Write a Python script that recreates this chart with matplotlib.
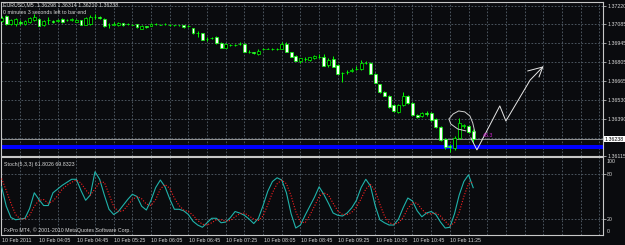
import matplotlib.pyplot as plt
import matplotlib.transforms as mtrans

plt.rcParams['font.family'] = ['Liberation Sans', 'DejaVu Sans']

# EURUSD M5 candles, 10 Feb 2011 from 03:25
opens = [1.37109, 1.37146, 1.37087, 1.37087, 1.37098, 1.37087, 1.37102, 1.37117, 1.37124, 1.37080,
         1.37113, 1.37106, 1.37106, 1.37124, 1.37115, 1.37119, 1.37102, 1.37113, 1.37080, 1.37087,
         1.37139, 1.37139, 1.37124, 1.37076, 1.37083, 1.37078, 1.37092, 1.37086, 1.37083, 1.37085,
         1.37052, 1.37069, 1.37072, 1.37086, 1.37083, 1.37084, 1.37080, 1.37079, 1.37078, 1.37076,
         1.37071, 1.37055, 1.37021, 1.37019, 1.36973, 1.36980, 1.36991, 1.36947, 1.36910, 1.36929,
         1.36932, 1.36936, 1.36936, 1.36884, 1.36877, 1.36866, 1.36899, 1.36903, 1.36904, 1.36901,
         1.36903, 1.36940, 1.36881, 1.36851, 1.36814, 1.36829, 1.36822, 1.36837, 1.36844, 1.36844,
         1.36785, 1.36829, 1.36785, 1.36726, 1.36730, 1.36744, 1.36753, 1.36755, 1.36797, 1.36796,
         1.36722, 1.36641, 1.36586, 1.36556, 1.36490, 1.36439, 1.36490, 1.36556, 1.36505, 1.36416,
         1.36409, 1.36431, 1.36431, 1.36387, 1.36328, 1.36240, 1.36188, 1.36173, 1.36247, 1.36335,
         1.36335, 1.36298]
highs = [1.37146, 1.37153, 1.37124, 1.37131, 1.37117, 1.37117, 1.37139, 1.37161, 1.37131, 1.37117,
         1.37139, 1.37117, 1.37124, 1.37131, 1.37124, 1.37131, 1.37124, 1.37117, 1.37139, 1.37153,
         1.37161, 1.37146, 1.37131, 1.37094, 1.37102, 1.37102, 1.37094, 1.37094, 1.37087, 1.37087,
         1.37076, 1.37072, 1.37094, 1.37094, 1.37087, 1.37091, 1.37087, 1.37083, 1.37083, 1.37080,
         1.37080, 1.37061, 1.37036, 1.37021, 1.36991, 1.36991, 1.36999, 1.36955, 1.36947, 1.36940,
         1.36940, 1.36955, 1.36947, 1.36896, 1.36881, 1.36903, 1.36907, 1.36910, 1.36907, 1.36910,
         1.36955, 1.36955, 1.36884, 1.36855, 1.36837, 1.36844, 1.36844, 1.36859, 1.36866, 1.36866,
         1.36837, 1.36851, 1.36792, 1.36733, 1.36748, 1.36763, 1.36778, 1.36822, 1.36814, 1.36807,
         1.36726, 1.36645, 1.36593, 1.36564, 1.36498, 1.36498, 1.36586, 1.36564, 1.36512, 1.36424,
         1.36439, 1.36446, 1.36439, 1.36394, 1.36335, 1.36247, 1.36203, 1.36262, 1.36394, 1.36350,
         1.36343, 1.36314]
lows = [1.37102, 1.37080, 1.37080, 1.37072, 1.37080, 1.37080, 1.37094, 1.37109, 1.37069, 1.37072,
        1.37087, 1.37094, 1.37102, 1.37094, 1.37109, 1.37109, 1.37098, 1.37076, 1.37076, 1.37080,
        1.37124, 1.37124, 1.37065, 1.37055, 1.37080, 1.37072, 1.37072, 1.37080, 1.37076, 1.37061,
        1.37050, 1.37061, 1.37069, 1.37080, 1.37076, 1.37080, 1.37072, 1.37072, 1.37072, 1.37061,
        1.37065, 1.37013, 1.36991, 1.36966, 1.36962, 1.36977, 1.36943, 1.36907, 1.36907, 1.36925,
        1.36925, 1.36932, 1.36877, 1.36873, 1.36866, 1.36862, 1.36896, 1.36899, 1.36896, 1.36896,
        1.36899, 1.36877, 1.36840, 1.36811, 1.36800, 1.36811, 1.36814, 1.36829, 1.36837, 1.36774,
        1.36770, 1.36767, 1.36715, 1.36660, 1.36719, 1.36733, 1.36748, 1.36748, 1.36792, 1.36715,
        1.36649, 1.36582, 1.36553, 1.36468, 1.36439, 1.36431, 1.36483, 1.36498, 1.36409, 1.36394,
        1.36402, 1.36409, 1.36372, 1.36321, 1.36225, 1.36166, 1.36144, 1.36159, 1.36240, 1.36321,
        1.36284, 1.36210]
closes = [1.37131, 1.37087, 1.37117, 1.37124, 1.37094, 1.37109, 1.37131, 1.37142, 1.37072, 1.37109,
          1.37117, 1.37104, 1.37113, 1.37098, 1.37117, 1.37122, 1.37117, 1.37080, 1.37128, 1.37139,
          1.37142, 1.37128, 1.37069, 1.37080, 1.37087, 1.37092, 1.37078, 1.37087, 1.37081, 1.37063,
          1.37072, 1.37066, 1.37087, 1.37087, 1.37081, 1.37085, 1.37078, 1.37080, 1.37077, 1.37065,
          1.37072, 1.37019, 1.37017, 1.36969, 1.36977, 1.36984, 1.36947, 1.36910, 1.36943, 1.36932,
          1.36930, 1.36940, 1.36881, 1.36881, 1.36873, 1.36888, 1.36903, 1.36905, 1.36903, 1.36904,
          1.36943, 1.36881, 1.36844, 1.36814, 1.36833, 1.36831, 1.36840, 1.36848, 1.36845, 1.36778,
          1.36818, 1.36770, 1.36719, 1.36724, 1.36733, 1.36748, 1.36755, 1.36796, 1.36800, 1.36719,
          1.36652, 1.36586, 1.36556, 1.36475, 1.36446, 1.36490, 1.36556, 1.36505, 1.36416, 1.36405,
          1.36431, 1.36424, 1.36380, 1.36328, 1.36232, 1.36181, 1.36177, 1.36247, 1.36358, 1.36339,
          1.36291, 1.36238]

# Stochastic(5,3,3)
stoch_main = [63, 37, 22, 19, 20, 21, 34, 55, 46, 38,
              38, 55, 60, 65, 69, 73, 73, 58, 45, 52,
              83, 73, 52, 33, 26, 30, 38, 46, 53, 50,
              37, 32, 45, 62, 72, 63, 47, 33, 33, 31,
              26, 17, 12, 9, 15, 21, 21, 15, 16, 22,
              30, 28, 25, 20, 14, 21, 38, 57, 70, 75,
              72, 55, 27, 8, 12, 25, 37, 49, 63, 53,
              41, 28, 25, 24, 28, 35, 45, 62, 73, 64,
              38, 19, 15, 12, 12, 20, 35, 48, 44, 31,
              23, 28, 30, 26, 16, 8, 9, 27, 52, 70,
              79, 61.80]
stoch_signal = [74, 58, 41, 26, 20, 20, 25, 37, 45, 46,
                41, 44, 51, 60, 65, 69, 72, 68, 59, 52,
                60, 69, 69, 53, 37, 30, 31, 38, 46, 50,
                47, 40, 38, 46, 60, 66, 61, 48, 38, 32,
                30, 25, 18, 13, 12, 15, 19, 19, 17, 18,
                23, 27, 28, 24, 20, 18, 24, 39, 55, 67,
                72, 67, 51, 30, 16, 15, 25, 37, 50, 55,
                52, 41, 31, 26, 26, 29, 36, 47, 60, 66,
                58, 40, 24, 15, 13, 15, 22, 34, 42, 41,
                33, 27, 27, 28, 24, 17, 11, 15, 29, 50,
                67, 69.83]

time_labels = ['10 Feb 2011', '10 Feb 04:05', '10 Feb 04:45', '10 Feb 05:25', '10 Feb 06:05',
               '10 Feb 06:45', '10 Feb 07:25', '10 Feb 08:05', '10 Feb 08:45', '10 Feb 09:25',
               '10 Feb 10:05', '10 Feb 10:45', '10 Feb 11:25']
time_bars = [0, 8, 16, 24, 32, 40, 48, 56, 64, 72, 80, 88, 96]

price_ticks = [1.37220, 1.37085, 1.36945, 1.36805, 1.36665, 1.36530, 1.36390, 1.36250, 1.36115]
price_labels = ['1.37220', '1.37085', '1.36945', '1.36805', '1.36665', '1.36530', '1.36390', '', '1.36115']
last_price = 1.36238
zone_low, zone_high = 1.36162, 1.36196

# hand drawn objects
path_bars = [100.5, 101.8, 106.7, 108.0, 113.2, 115.9]
path_prices = [1.36247, 1.36159, 1.36483, 1.36372, 1.36674, 1.36770]
head_bars = [112.7, 115.9, 115.1]
head_prices = [1.36741, 1.36770, 1.36697]
loop_bars = [99.4, 97.7, 96.2, 95.8, 96.7, 97.9, 99.2, 100.3, 100.9, 101.4]
loop_prices = [1.36299, 1.36313, 1.36350, 1.36387, 1.36424, 1.36446, 1.36439, 1.36409, 1.36358, 1.36284]
note_text = '48.3'
note_bar, note_price = 103.0, 1.36262

bg = '#0a0b0e'
fg = '#d8d8d8'
grid_c = '#56616c'
lime = '#00ff00'

fig = plt.figure(figsize=(6.25, 2.45), dpi=100, facecolor=bg)
ax = fig.add_axes([1 / 625, 1 - 156 / 245, 602 / 625, 154 / 245], facecolor=bg)
ax2 = fig.add_axes([1 / 625, 1 - 235 / 245, 602 / 625, 78 / 245], facecolor=bg)

bars = list(range(len(closes)))
xmin, xmax = -0.13, 128.8

for a in (ax, ax2):
    a.set_xlim(xmin, xmax)
    a.set_xticks(range(4, 129, 4))
    a.tick_params(axis='x', length=0, labelbottom=False)
    for s in a.spines.values():
        s.set_color('#c8c8c8')
        s.set_linewidth(0.8)
    a.yaxis.tick_right()
    a.tick_params(axis='y', colors=fg, labelsize=3.8, length=2, width=0.5, pad=1)
    a.grid(True, color=grid_c, linestyle=(0, (2, 2)), linewidth=0.6)
    a.set_axisbelow(True)

# price panel
ax.set_ylim(1.36114, 1.37249)
ax.set_yticks(price_ticks)
ax.set_yticklabels(price_labels)
ax.axhspan(zone_low, zone_high, color='#0000ff', lw=0, zorder=1)
ax.axhline(last_price, color='#a8a8a8', lw=0.6, zorder=1)

wick_lo = lows
wick_hi = highs
ax.vlines(bars, wick_lo, wick_hi, color=lime, lw=0.7, zorder=3)
body_bottom = [min(o, c) for o, c in zip(opens, closes)]
body_height = [max(abs(c - o), 0.000005) for o, c in zip(opens, closes)]
body_color = ['#ffffff' if c < o else '#000000' for o, c in zip(opens, closes)]
ax.bar(bars, body_height, bottom=body_bottom, width=0.62, color=body_color,
       edgecolor=lime, linewidth=0.5, zorder=4)

ax.plot(path_bars, path_prices, color='#e8e8e8', lw=0.7, zorder=5)
ax.plot(head_bars, head_prices, color='#e8e8e8', lw=0.7, zorder=5)
ax.plot(loop_bars, loop_prices, color='#d0d0d0', lw=0.7, zorder=5)
ax.text(note_bar, note_price, note_text, color='#d020d0', fontsize=3.8, va='center', ha='left', zorder=6)

trans = mtrans.blended_transform_factory(ax.transAxes, ax.transData)
ax.text(1.003, last_price, '1.36238', transform=trans, color='#000000', fontsize=3.8,
        va='center', ha='left', clip_on=False,
        bbox=dict(boxstyle='square,pad=0.15', fc='#ffffff', ec='none'))

fig.text(3 / 625, 1 - 5 / 245, 'EURUSD,M5  1.36298 1.36314 1.36210 1.36238', color=fg,
         fontsize=3.8, va='center', ha='left')
fig.text(3 / 625, 1 - 12 / 245, '0 minutes 3 seconds left to bar end', color=fg,
         fontsize=3.8, va='center', ha='left')

# stochastic panel
ax2.set_ylim(-1.3, 102.7)
ax2.set_yticks([20, 80])
ax2.set_yticklabels(['20', '80'])
ax2.plot(bars, stoch_main, color='#20b2aa', lw=0.8, zorder=3)
ax2.plot(bars, stoch_signal, color='#ff2020', lw=0.8, linestyle=(0, (1, 1.5)), zorder=3)
trans2 = mtrans.blended_transform_factory(ax2.transAxes, ax2.transData)
ax2.text(1.006, 100, '100', transform=trans2, color=fg, fontsize=3.8, va='top', ha='left')
ax2.text(1.006, 0, '0', transform=trans2, color=fg, fontsize=3.8, va='bottom', ha='left')

fig.text(4 / 625, 1 - 164 / 245, 'Stoch(5,3,3) 61.8026 69.8323', color=fg,
         fontsize=3.8, va='center', ha='left')
fig.text(4 / 625, 1 - 230 / 245, 'FxPro MT4, \u00a9 2001-2010 MetaQuotes Software Corp.', color=fg,
         fontsize=3.8, va='center', ha='left')

trans3 = mtrans.blended_transform_factory(ax2.transData, ax2.transAxes)
for b, lab in zip(time_bars, time_labels):
    ax2.text(b + 0.1, -0.065, lab, transform=trans3, color=fg, fontsize=3.8,
             va='center', ha='left', clip_on=False)

fig.savefig('out.png', dpi=100, facecolor=bg)
